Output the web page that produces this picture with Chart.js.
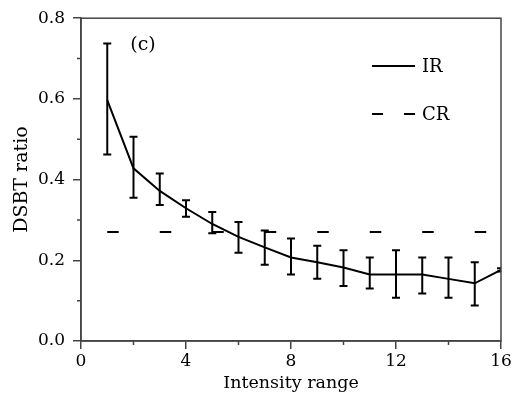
<!DOCTYPE html>
<html>
<head>
<meta charset="utf-8">
<script src="https://cdn.jsdelivr.net/npm/chart.js@4"></script>
<style>
  html, body { margin: 0; padding: 0; background: #fff; }
  #wrap { width: 514px; height: 397px; }
</style>
</head>
<body>
<div id="wrap"><canvas id="chart" width="514" height="397"></canvas></div>
<script>
// data
const xValues = [1, 2, 3, 4, 5, 6, 7, 8, 9, 10, 11, 12, 13, 14, 15, 16];
const irValues = [0.597, 0.428, 0.372, 0.329, 0.290, 0.258, 0.232, 0.207, 0.195, 0.182, 0.165, 0.165, 0.165, 0.154, 0.143, 0.176];
const irHigh = [0.737, 0.506, 0.415, 0.349, 0.320, 0.295, 0.274, 0.254, 0.236, 0.225, 0.207, 0.225, 0.207, 0.207, 0.195, 0.180];
const irLow = [0.462, 0.355, 0.337, 0.308, 0.267, 0.219, 0.189, 0.165, 0.154, 0.136, 0.130, 0.107, 0.118, 0.107, 0.088, 0.172];
const crX = [1, 16];
const crValue = 0.27;
const xTicks = [0, 4, 8, 12, 16];
const xMinor = [2, 6, 10, 14];
const yMinor = [0.1, 0.3, 0.5, 0.7];
const panelLabel = '(c)';

const FONT = 'DejaVu Serif';
const AXIS = '#444';

const irData = xValues.map((x, i) => ({ x: x, y: irValues[i] }));
const crData = crX.map(x => ({ x: x, y: crValue }));

const extras = {
    id: 'extras',
    afterDatasetsDraw(chart) {
        const ctx = chart.ctx;
        const xs = chart.scales.x, ys = chart.scales.y;
        const a = chart.chartArea;

        // error bars
        ctx.save();
        ctx.beginPath();
        ctx.rect(a.left, a.top, a.right - a.left, a.bottom - a.top);
        ctx.clip();
        ctx.strokeStyle = '#000';
        ctx.lineWidth = 2;
        xValues.forEach((x, i) => {
            const px = xs.getPixelForValue(x);
            const top = ys.getPixelForValue(irHigh[i]);
            const bot = ys.getPixelForValue(irLow[i]);
            ctx.beginPath();
            ctx.moveTo(px, top); ctx.lineTo(px, bot);
            ctx.moveTo(px - 4, top); ctx.lineTo(px + 4, top);
            ctx.moveTo(px - 4, bot); ctx.lineTo(px + 4, bot);
            ctx.stroke();
        });
        ctx.restore();

        // frame + minor ticks
        ctx.save();
        ctx.strokeStyle = AXIS;
        ctx.lineWidth = 1.5;
        ctx.strokeRect(a.left, a.top, a.right - a.left, a.bottom - a.top);
        ctx.beginPath();
        xMinor.forEach(v => {
            const px = xs.getPixelForValue(v);
            ctx.moveTo(px, a.bottom); ctx.lineTo(px, a.bottom + 4);
        });
        yMinor.forEach(v => {
            const py = ys.getPixelForValue(v);
            ctx.moveTo(a.left, py); ctx.lineTo(a.left - 4, py);
        });
        ctx.stroke();
        ctx.restore();

        // panel label
        ctx.save();
        ctx.fillStyle = '#000';
        ctx.font = '19px "' + FONT + '"';
        ctx.textAlign = 'center';
        ctx.textBaseline = 'middle';
        ctx.fillText(panelLabel, xs.getPixelForValue(2.36), ys.getPixelForValue(0.733));
        ctx.restore();

        // legend
        ctx.save();
        ctx.strokeStyle = '#000';
        ctx.lineWidth = 2;
        ctx.beginPath();
        ctx.moveTo(372, 66); ctx.lineTo(415, 66);
        ctx.moveTo(372, 114); ctx.lineTo(383, 114);
        ctx.moveTo(404, 114); ctx.lineTo(415, 114);
        ctx.stroke();
        ctx.fillStyle = '#000';
        ctx.font = '18px "' + FONT + '"';
        ctx.textBaseline = 'middle';
        ctx.fillText(chart.data.datasets[0].label, 422, 67);
        ctx.fillText(chart.data.datasets[1].label, 422, 115);
        ctx.restore();
    }
};

new Chart(document.getElementById('chart'), {
    type: 'line',
    data: {
        datasets: [{
            label: 'IR',
            data: irData,
            borderColor: '#000',
            borderWidth: 2,
            pointRadius: 0,
            tension: 0
        }, {
            label: 'CR',
            data: crData,
            borderColor: '#000',
            borderWidth: 2,
            borderDash: [11.5, 41],
            pointRadius: 0
        }]
    },
    options: {
        responsive: false,
        animation: false,
        layout: { padding: { top: 18, right: 13, left: 0, bottom: 0 } },
        plugins: { legend: { display: false }, tooltip: { enabled: false } },
        scales: {
            x: {
                type: 'linear',
                min: 0,
                max: 16,
                afterBuildTicks: s => { s.ticks = xTicks.map(v => ({ value: v })); },
                afterFit: s => { s.height = 56; },
                grid: { drawOnChartArea: false, tickLength: 8, color: AXIS, lineWidth: 1.5 },
                border: { color: AXIS, width: 1.5 },
                ticks: { color: '#000', font: { family: FONT, size: 17 }, padding: 2, maxRotation: 0 },
                title: { display: true, text: 'Intensity range', color: '#000', font: { family: FONT, size: 17.5 }, padding: { top: 0, bottom: 3 } }
            },
            y: {
                min: 0,
                max: 0.8,
                ticks: { stepSize: 0.2, color: '#000', font: { family: FONT, size: 17 }, padding: 8,
                    callback: v => v.toFixed(1) },
                afterFit: s => { s.width = 81; },
                grid: { drawOnChartArea: false, tickLength: 8, color: AXIS, lineWidth: 1.5 },
                border: { color: AXIS, width: 1.5 },
                title: { display: true, text: 'DSBT ratio', color: '#000', font: { family: FONT, size: 19 }, padding: { top: 11, bottom: 0 } }
            }
        }
    },
    plugins: [extras]
});
</script>
</body>
</html>
